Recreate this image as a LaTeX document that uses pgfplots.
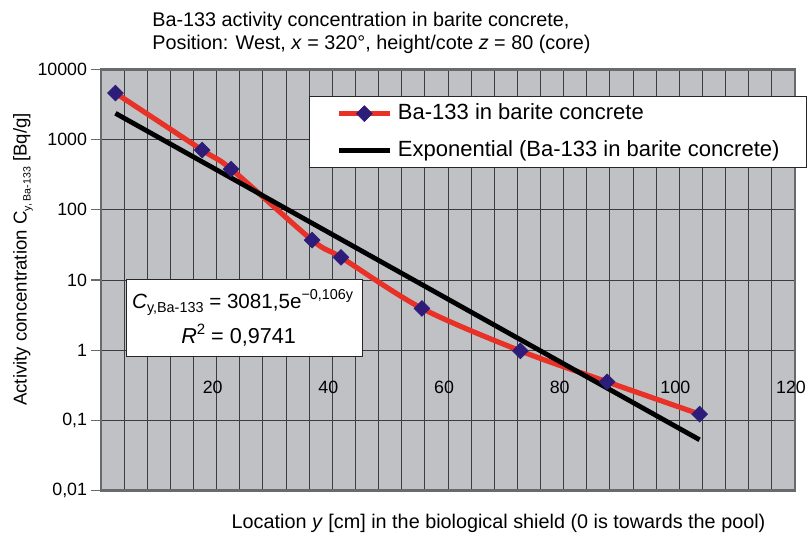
\documentclass[border=0pt]{standalone}
\usepackage{fontspec}
\setmainfont{Liberation Sans}
\usepackage{pgfplots}
\usepackage{pgfplotstable}
\pgfplotsset{compat=1.18}
\definecolor{plotbg}{RGB}{192,193,197}
\definecolor{gridc}{RGB}{60,60,62}
\definecolor{framec}{RGB}{105,106,110}
\definecolor{redline}{RGB}{232,50,40}
\definecolor{navy}{RGB}{45,28,120}

\pgfplotstableread{
x y
2.5 4590
17.5 708
22.5 380
36.5 37
41.5 21
55.5 3.94
72.5 0.98
87.5 0.355
103.5 0.123
}\measured

\pgfplotstableread{
x y
2.5 2364
103.5 0.0531
}\fitline

\begin{document}
\begin{tikzpicture}
\useasboundingbox (-50.5pt,-22.65pt) rectangle (355.5pt,245.35pt);
\begin{axis}[
  at={(0,0)}, anchor=south west,
  scale only axis, width=347pt, height=210.7pt,
  xmin=0, xmax=120, ymode=log, ymin=0.01, ymax=10000,
  axis background/.style={fill=plotbg},
  axis line style={draw=framec, line width=1.4pt},
  xtick={20,40,...,120}, xticklabels={20,40,60,80,100,120},
  minor xtick={0,4,...,120},
  xmajorgrids, xminorgrids, ymajorgrids,
  major grid style={draw=gridc, line width=0.45pt},
  minor grid style={draw=gridc, line width=0.45pt},
  xtick style={draw=none},
  minor x tick style={draw=none},
  ytick={0.01,0.1,1,10,100,1000,10000},
  yticklabels={{0,01},{0,1},1,10,100,1000,10000},
  yminorticks=false,
  ytick pos=left, tick align=outside, major tick length=5pt,
  ytick style={draw=framec, line width=0.6pt},
  tick label style={font=\fontsize{8.9}{10}\selectfont},
  xticklabel style={anchor=center, yshift=56.85pt, xshift=-2pt},
  yticklabel style={inner xsep=1.8pt},
  /pgf/number format/assume math mode=true,
  title={Ba-133 activity concentration in barite concrete,\\Position: West, \textit{x} = 320°, height/cote \textit{z} = 80 (core)},
  title style={at={(axis description cs:0.0735,1.1087)}, anchor=north west, align=left, inner sep=0pt, font=\fontsize{9.9}{11.5}\selectfont},
  xlabel={Location \textit{y} [cm] in the biological shield (0 is towards the pool)},
  xlabel style={at={(axis description cs:0.5728,-0.0885)}, anchor=base, inner sep=0pt, font=\fontsize{9.9}{11.5}\selectfont},
  ylabel={Activity concentration C\raisebox{-2pt}{\fontsize{5.3}{6}\selectfont y, Ba-133} [Bq/g]},
  ylabel style={at={(axis description cs:-0.1124,0.5487)}, anchor=center, inner sep=0pt, font=\fontsize{9.3}{11}\selectfont},
  legend image code/.code={\draw[mark repeat=2, mark phase=2, #1] plot coordinates {(0pt,0pt) (12.75pt,0pt) (25.5pt,0pt)};},
  legend cell align=left,
  legend style={at={(axis description cs:0.2997,0.9366)}, anchor=north west,
    draw=black!85, line width=0.6pt, fill=white,
    inner xsep=13.5pt, inner ysep=3.25pt, row sep=8pt, column sep=3pt,
    nodes={inner sep=0pt, text height=8pt, text depth=2.5pt, font=\fontsize{11}{13}\selectfont}},
]
\addplot[redline, line width=2.6pt, smooth, tension=0.5, forget plot] table[x=x,y=y] {\measured};
\addplot[black, line width=2.4pt, forget plot] table[x=x,y=y] {\fitline};
\addplot[only marks, mark=square*, mark size=2.8pt, mark options={rotate=45, fill=navy, draw=navy, line width=0.3pt}, forget plot] table[x=x,y=y] {\measured};
\addlegendimage{redline, line width=2.2pt, mark=square*, mark size=2.8pt, mark options={rotate=45, fill=navy, draw=navy, line width=0.3pt}}
\addlegendentry{Ba-133 in barite concrete}
\addlegendimage{black, line width=2.2pt}
\addlegendentry{Exponential (Ba-133 in barite concrete)}
\node[draw=black!85, line width=0.6pt, fill=white, anchor=north west, inner sep=0pt] at (rel axis cs:0.036,0.5024)
 {\parbox[t][38.5pt][t]{118pt}{\fontsize{10.3}{17.5}\selectfont
  \rule{0pt}{14.5pt}\makebox[116pt][c]{\textit{C}\raisebox{-2.2pt}{\fontsize{7.2}{8}\selectfont y,Ba-133} = 3081,5e\raisebox{4.4pt}{\fontsize{7.2}{8}\selectfont −0,106y}}\\
  \makebox[112pt][c]{\fontsize{10.8}{17.5}\selectfont\textit{R}\raisebox{4.6pt}{\fontsize{7.5}{8}\selectfont 2} = 0,9741}}};
\end{axis}
\end{tikzpicture}
\end{document}
